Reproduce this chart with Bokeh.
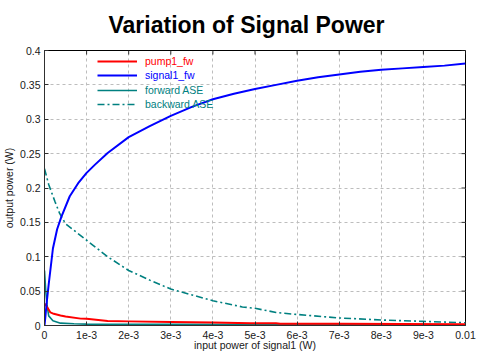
import math
from bokeh.plotting import figure
from bokeh.models import Range1d, Legend, LegendItem, FixedTicker
from bokeh.embed import file_html
from bokeh.resources import INLINE

# ---- data (W) ----
signal_x = [0, 0.00002, 0.00005, 0.0001, 0.0002, 0.0003, 0.0004, 0.0006, 0.0008, 0.001, 0.0012,
            0.0015, 0.002, 0.0025, 0.003, 0.0035, 0.004, 0.0045, 0.005, 0.0055, 0.006,
            0.0065, 0.007, 0.0075, 0.008, 0.0085, 0.009, 0.0095, 0.01]
signal_y = [0, 0.012, 0.032, 0.06, 0.112, 0.14, 0.158, 0.188, 0.207, 0.222, 0.234,
            0.251, 0.274, 0.29, 0.305, 0.318, 0.329, 0.337, 0.344, 0.35, 0.356,
            0.361, 0.365, 0.369, 0.372, 0.374, 0.376, 0.378, 0.381]

pump_x = [0, 0.00005, 0.00014, 0.00022, 0.00038, 0.0005, 0.00086, 0.001, 0.0015, 0.002,
          0.003, 0.004, 0.0049, 0.0055, 0.0056, 0.007, 0.0085, 0.01]
pump_y = [0.032, 0.028, 0.019, 0.017, 0.0145, 0.013, 0.0100, 0.0097, 0.0065, 0.0060,
          0.005, 0.0042, 0.0034, 0.0032, 0.0026, 0.0024, 0.0022, 0.0020]

fwd_x = [0, 0.00003, 0.00006, 0.0001, 0.0002, 0.00038, 0.0007, 0.001, 0.003, 0.006, 0.01]
fwd_y = [0.08, 0.05, 0.03, 0.014, 0.007, 0.0034, 0.0025, 0.002, 0.0016, 0.0014, 0.0012]

bwd_x = [0, 0.0001, 0.00025, 0.00036, 0.0005, 0.001, 0.0015, 0.002, 0.0025, 0.003,
         0.004, 0.0047, 0.005, 0.0055, 0.006, 0.007, 0.008, 0.009, 0.01]
bwd_y = [0.228, 0.205, 0.18, 0.163, 0.148, 0.124, 0.1, 0.08, 0.066, 0.053,
         0.036, 0.027, 0.025, 0.019, 0.016, 0.011, 0.008, 0.006, 0.004]

x_ticks = [0, 0.001, 0.002, 0.003, 0.004, 0.005, 0.006, 0.007, 0.008, 0.009, 0.01]
x_tick_labels = ["0", "1e-3", "2e-3", "3e-3", "4e-3", "5e-3", "6e-3", "7e-3", "8e-3", "9e-3", "0.01"]
y_ticks = [0, 0.05, 0.1, 0.15, 0.2, 0.25, 0.3, 0.35, 0.4]
y_tick_labels = ["0", "0.05", "0.1", "0.15", "0.2", "0.25", "0.3", "0.35", "0.4"]

x_min, x_max = 0, 0.01
y_min, y_max = 0, 0.4

FONT = "Liberation Sans"

p = figure(width=488, height=364, output_backend="svg", toolbar_location=None,
           x_range=Range1d(x_min, x_max), y_range=Range1d(y_min, y_max),
           title="Variation of Signal Power",
           min_border_left=44, min_border_right=23, min_border_top=50, min_border_bottom=39,
           x_axis_label="input power of signal1 (W)", y_axis_label="output power (W)")

p.title.text_font = FONT
p.title.text_font_size = "23px"
p.title.text_font_style = "bold"
p.title.align = "left"
p.title.offset = 64
p.title.vertical_align = "top"
p.title.text_color = "black"
p.title.standoff = 22

p.outline_line_color = "black"
p.outline_line_width = 1
p.background_fill_color = "white"

for ax, ticks, labels in ((p.xaxis[0], x_ticks, x_tick_labels), (p.yaxis[0], y_ticks, y_tick_labels)):
    ax.ticker = FixedTicker(ticks=ticks)
    ax.major_label_overrides = {t: l for t, l in zip(ticks, labels)}
    ax.major_tick_in = 4
    ax.major_tick_out = 0
    ax.minor_tick_in = 0
    ax.minor_tick_out = 0
    ax.major_tick_line_color = "#303030"
    ax.axis_line_color = "#303030"
    ax.major_label_text_font = FONT
    ax.major_label_text_font_size = "10.5px"
    ax.major_label_text_color = "#202020"
    ax.axis_label_text_font = FONT
    ax.axis_label_text_font_size = "10.5px"
    ax.axis_label_text_font_style = "normal"
    ax.axis_label_text_color = "#202020"
p.xaxis[0].major_label_standoff = 5
p.xaxis[0].axis_label_standoff = -3
p.yaxis[0].major_label_standoff = 4
p.yaxis[0].axis_label_standoff = 2

for g in (p.xgrid[0], p.ygrid[0]):
    g.grid_line_color = "#bdbdbd"
    g.grid_line_dash = "3 3"
    g.grid_line_width = 1
p.xgrid[0].ticker = FixedTicker(ticks=x_ticks)
p.ygrid[0].ticker = FixedTicker(ticks=y_ticks)

# inward tick marks on the top and right frame edges
p.ray(x=x_ticks, y=[y_max] * len(x_ticks), length=4, length_units="screen",
      angle=-math.pi / 2, line_color="#303030", line_width=1)
p.ray(x=[x_max] * len(y_ticks), y=y_ticks, length=4, length_units="screen",
      angle=math.pi, line_color="#303030", line_width=1)

r_bwd = p.line(bwd_x, bwd_y, line_color="#008080", line_width=1.6, line_dash="7 3 2 3")
r_fwd = p.line(fwd_x, fwd_y, line_color="#008080", line_width=1.6)
r_pump = p.line(pump_x, pump_y, line_color="#ff0000", line_width=2)
r_sig = p.line(signal_x, signal_y, line_color="#0000ff", line_width=2)

entries = [("pump1_fw", r_pump, "#ff0000"), ("signal1_fw", r_sig, "#0000ff"),
           ("forward ASE", r_fwd, "#008080"), ("backward ASE", r_bwd, "#008080")]
for i, (lab, r, col) in enumerate(entries):
    lg = Legend(items=[LegendItem(label=lab, renderers=[r])], location=(53, 257 - i * 14.3),
                padding=0, margin=0, spacing=0, glyph_width=40, glyph_height=14,
                label_height=14, label_standoff=8,
                label_text_font=FONT, label_text_font_size="10.5px", label_text_color=col,
                border_line_alpha=0, background_fill_alpha=0)
    p.add_layout(lg)

open("out.html", "w").write(file_html(p, INLINE))
